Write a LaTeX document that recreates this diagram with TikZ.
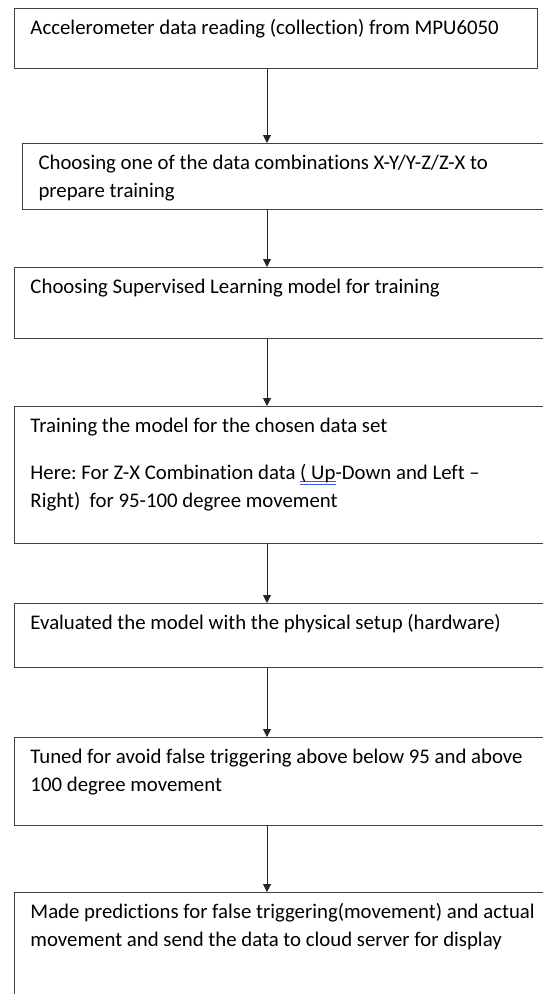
\documentclass[tikz,border=0pt]{standalone}
\usepackage{fontspec}
\setmainfont{Carlito}[Ligatures=NoCommon]
\usetikzlibrary{arrows.meta,calc}

\definecolor{spellblue}{RGB}{60,90,220}
\tikzset{
  stepbox/.style={draw=black!75, line width=1pt, anchor=north west, inner xsep=16pt, inner ysep=0pt,
    font=\fontsize{20.8}{28}\selectfont},
  flow/.style={-{Triangle[width=8pt,length=8pt]}, line width=1pt, black!85}
}
% box text: height, width, text (first baseline 26pt below the top)
\newcommand{\steptext}[3]{\parbox[t][#1][t]{#2}{\raggedright\frenchspacing\rule{0pt}{26pt}#3}}
% blue double underline of the spell check
\newsavebox\gbox
\newcommand{\gramline}[1]{\sbox\gbox{#1}%
  \rlap{\color{spellblue}\rule[-2.5pt]{\wd\gbox}{0.8pt}}\rlap{\color{spellblue}\rule[-4.8pt]{\wd\gbox}{0.8pt}}#1}

\begin{document}
\begin{tikzpicture}[x=1pt,y=-1pt]
\useasboundingbox (0,0) rectangle (543,994);
\clip (0,0) rectangle (543,994);

\node[stepbox] (acc) at (14,8) {\steptext{60pt}{491pt}{Accelerometer data reading (collection) from MPU6050}};
\node[stepbox] (comb) at (22,143) {\steptext{66pt}{560pt}{Choosing one of the data combinations X-Y/Y-Z/Z-X to\\prepare training}};
\node[stepbox] (model) at (14,267) {\steptext{71pt}{560pt}{Choosing Supervised Learning model for training}};
\node[stepbox] (train) at (14,406) {\steptext{137pt}{560pt}{Training the model for the chosen data set\par\vspace{19pt}
  Here: For Z-X Combination data \gramline{( Up}-Down and Left --\\Right)~ for 95-100 degree movement}};
\node[stepbox] (eval) at (14,603) {\steptext{64pt}{560pt}{Evaluated the model with the physical setup (hardware)}};
\node[stepbox] (tune) at (14,737) {\steptext{88pt}{560pt}{Tuned for avoid false triggering above below 95 and above\\100 degree movement}};
\node[stepbox] (pred) at (14,892) {\steptext{150pt}{560pt}{Made predictions for false triggering(movement) and actual\\movement and send the data to cloud server for display}};

\coordinate (ax) at (267,0);
\foreach \a/\b in {acc/comb, comb/model, model/train, train/eval, eval/tune, tune/pred}
  \draw[flow] (\a.south -| ax) -- (\b.north -| ax);

\end{tikzpicture}
\end{document}
